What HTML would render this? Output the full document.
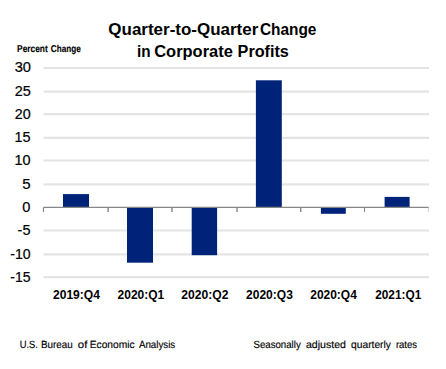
<!DOCTYPE html>
<html><head><meta charset="utf-8">
<style>
html,body{margin:0;padding:0;background:#fff;width:446px;height:369px;overflow:hidden}
svg{display:block}
text{font-family:"Liberation Sans",sans-serif;white-space:pre}
</style></head><body>
<svg width="446" height="369" viewBox="0 0 446 369">
<rect width="446" height="369" fill="#fff"/>
<g stroke="#e4e4e4" stroke-width="2.2">
<line x1="43.5" x2="429" y1="68.00" y2="68.00"/>
<line x1="43.5" x2="429" y1="91.60" y2="91.60"/>
<line x1="43.5" x2="429" y1="114.20" y2="114.20"/>
<line x1="43.5" x2="429" y1="137.85" y2="137.85"/>
<line x1="43.5" x2="429" y1="160.50" y2="160.50"/>
<line x1="43.5" x2="429" y1="184.30" y2="184.30"/>
<line x1="43.5" x2="429" y1="230.50" y2="230.50"/>
<line x1="43.5" x2="429" y1="254.30" y2="254.30"/>
<line x1="43.5" x2="429" y1="277.10" y2="277.10"/>
</g>
<g fill="#00237a">
<rect x="63" y="194.1" width="26.00" height="13.30"/>
<rect x="127" y="207.4" width="26.00" height="55.30"/>
<rect x="191.7" y="207.4" width="25.40" height="47.80"/>
<rect x="255.9" y="80.3" width="25.90" height="127.10"/>
<rect x="320.9" y="207.4" width="24.90" height="6.40"/>
<rect x="384.6" y="196.9" width="25.00" height="10.50"/>
</g>
<g stroke="#868686" stroke-width="1.2" fill="none">
<line x1="43.5" x2="428.8" y1="207.4" y2="207.4"/>
<line x1="43.5" x2="43.5" y1="207.4" y2="212"/>
</g>
<g stroke="#8e8e8e" stroke-width="1.5" fill="none">
<line x1="108.10" x2="108.10" y1="207.4" y2="212"/>
<line x1="171.95" x2="171.95" y1="207.4" y2="212"/>
<line x1="237.00" x2="237.00" y1="207.4" y2="212"/>
<line x1="300.76" x2="300.76" y1="207.4" y2="212"/>
</g>
<line x1="364.5" x2="364.5" y1="207.4" y2="212" stroke="#868686" stroke-width="1.1"/>
<line x1="428.4" x2="428.4" y1="207.4" y2="212" stroke="#c8c8c8" stroke-width="0.9"/>
<text id="t1a" x="108.34" y="34.60" font-size="16" font-weight="bold" fill="#000" textLength="149.93" lengthAdjust="spacingAndGlyphs">Quarter-to-Quarter</text>
<text id="t1b" x="259.88" y="34.60" font-size="16" font-weight="bold" fill="#000" textLength="56.58" lengthAdjust="spacingAndGlyphs">Change</text>
<text id="t2a" x="137.04" y="56.50" font-size="16" font-weight="bold" fill="#000" textLength="13.56" lengthAdjust="spacingAndGlyphs">in</text>
<text id="t2b" x="154.25" y="56.50" font-size="16" font-weight="bold" fill="#000" textLength="78.55" lengthAdjust="spacingAndGlyphs">Corporate</text>
<text id="t2c" x="237.59" y="56.50" font-size="16" font-weight="bold" fill="#000" textLength="51.28" lengthAdjust="spacingAndGlyphs">Profits</text>
<text id="pa" x="17.09" y="52.10" font-size="10" font-weight="bold" fill="#000" style="text-rendering:geometricPrecision" textLength="30.61" lengthAdjust="spacingAndGlyphs" stroke="#000" stroke-width="0.15">Percent</text>
<text id="pb" x="50.81" y="52.10" font-size="10" font-weight="bold" fill="#000" style="text-rendering:geometricPrecision" textLength="29.87" lengthAdjust="spacingAndGlyphs" stroke="#000" stroke-width="0.15">Change</text>
<text id="y30" x="14.66" y="72.10" font-size="14" font-weight="normal" fill="#000" textLength="16.27" lengthAdjust="spacingAndGlyphs" stroke="#000" stroke-width="0.2">30</text>
<text id="y25" x="14.75" y="95.60" font-size="14" font-weight="normal" fill="#000" textLength="16.15" lengthAdjust="spacingAndGlyphs" stroke="#000" stroke-width="0.2">25</text>
<text id="y20" x="14.78" y="118.80" font-size="14" font-weight="normal" fill="#000" textLength="15.93" lengthAdjust="spacingAndGlyphs" stroke="#000" stroke-width="0.2">20</text>
<text id="y15" x="14.42" y="142.00" font-size="14" font-weight="normal" fill="#000" textLength="16.04" lengthAdjust="spacingAndGlyphs" stroke="#000" stroke-width="0.2">15</text>
<text id="y10" x="14.40" y="165.20" font-size="14" font-weight="normal" fill="#000" textLength="16.06" lengthAdjust="spacingAndGlyphs" stroke="#000" stroke-width="0.2">10</text>
<text id="y5" x="22.20" y="188.50" font-size="14" font-weight="normal" fill="#000" textLength="8.38" lengthAdjust="spacingAndGlyphs" stroke="#000" stroke-width="0.2">5</text>
<text id="y0" x="22.33" y="211.80" font-size="14" font-weight="normal" fill="#000" textLength="8.15" lengthAdjust="spacingAndGlyphs" stroke="#000" stroke-width="0.2">0</text>
<text id="ym5" x="17.63" y="235.00" font-size="14" font-weight="normal" fill="#000" textLength="12.86" lengthAdjust="spacingAndGlyphs" stroke="#000" stroke-width="0.2">-5</text>
<text id="ym10" x="10.31" y="258.50" font-size="14" font-weight="normal" fill="#000" textLength="20.36" lengthAdjust="spacingAndGlyphs" stroke="#000" stroke-width="0.2">-10</text>
<text id="ym15" x="10.31" y="281.80" font-size="14" font-weight="normal" fill="#000" textLength="20.24" lengthAdjust="spacingAndGlyphs" stroke="#000" stroke-width="0.2">-15</text>
<text id="c1" x="52.96" y="298.90" font-size="12" font-weight="bold" fill="#000" textLength="46.97" lengthAdjust="spacingAndGlyphs">2019:Q4</text>
<text id="c2" x="117.60" y="298.90" font-size="12" font-weight="bold" fill="#000" textLength="46.58" lengthAdjust="spacingAndGlyphs">2020:Q1</text>
<text id="c3" x="181.24" y="298.90" font-size="12" font-weight="bold" fill="#000" textLength="47.17" lengthAdjust="spacingAndGlyphs">2020:Q2</text>
<text id="c4" x="246.01" y="298.90" font-size="12" font-weight="bold" fill="#000" textLength="46.82" lengthAdjust="spacingAndGlyphs">2020:Q3</text>
<text id="c5" x="310.24" y="298.90" font-size="12" font-weight="bold" fill="#000" textLength="46.60" lengthAdjust="spacingAndGlyphs">2020:Q4</text>
<text id="c6" x="375.20" y="298.90" font-size="12" font-weight="bold" fill="#000" textLength="46.05" lengthAdjust="spacingAndGlyphs">2021:Q1</text>
<text id="f1" x="19.66" y="348.00" font-size="10.4" font-weight="normal" fill="#000" style="text-rendering:geometricPrecision" textLength="18.20" lengthAdjust="spacingAndGlyphs" stroke="#000" stroke-width="0.15">U.S.</text>
<text id="f2" x="40.91" y="348.00" font-size="10.4" font-weight="normal" fill="#000" style="text-rendering:geometricPrecision" textLength="31.76" lengthAdjust="spacingAndGlyphs" stroke="#000" stroke-width="0.15">Bureau</text>
<text id="f3" x="77.86" y="348.00" font-size="10.4" font-weight="normal" fill="#000" style="text-rendering:geometricPrecision" textLength="9.54" lengthAdjust="spacingAndGlyphs" stroke="#000" stroke-width="0.15">of</text>
<text id="f4" x="89.70" y="348.00" font-size="10.4" font-weight="normal" fill="#000" style="text-rendering:geometricPrecision" textLength="44.95" lengthAdjust="spacingAndGlyphs" stroke="#000" stroke-width="0.15">Economic</text>
<text id="f5" x="138.96" y="348.00" font-size="10.4" font-weight="normal" fill="#000" style="text-rendering:geometricPrecision" textLength="36.30" lengthAdjust="spacingAndGlyphs" stroke="#000" stroke-width="0.15">Analysis</text>
<text id="g1" x="253.45" y="348.00" font-size="10.4" font-weight="normal" fill="#000" style="text-rendering:geometricPrecision" textLength="47.32" lengthAdjust="spacingAndGlyphs" stroke="#000" stroke-width="0.15">Seasonally</text>
<text id="g2" x="305.91" y="348.00" font-size="10.4" font-weight="normal" fill="#000" style="text-rendering:geometricPrecision" textLength="40.11" lengthAdjust="spacingAndGlyphs" stroke="#000" stroke-width="0.15">adjusted</text>
<text id="g3" x="351.09" y="348.00" font-size="10.4" font-weight="normal" fill="#000" style="text-rendering:geometricPrecision" textLength="39.85" lengthAdjust="spacingAndGlyphs" stroke="#000" stroke-width="0.15">quarterly</text>
<text id="g4" x="395.91" y="348.00" font-size="10.4" font-weight="normal" fill="#000" style="text-rendering:geometricPrecision" textLength="21.14" lengthAdjust="spacingAndGlyphs" stroke="#000" stroke-width="0.15">rates</text>
</svg>
</body></html>
